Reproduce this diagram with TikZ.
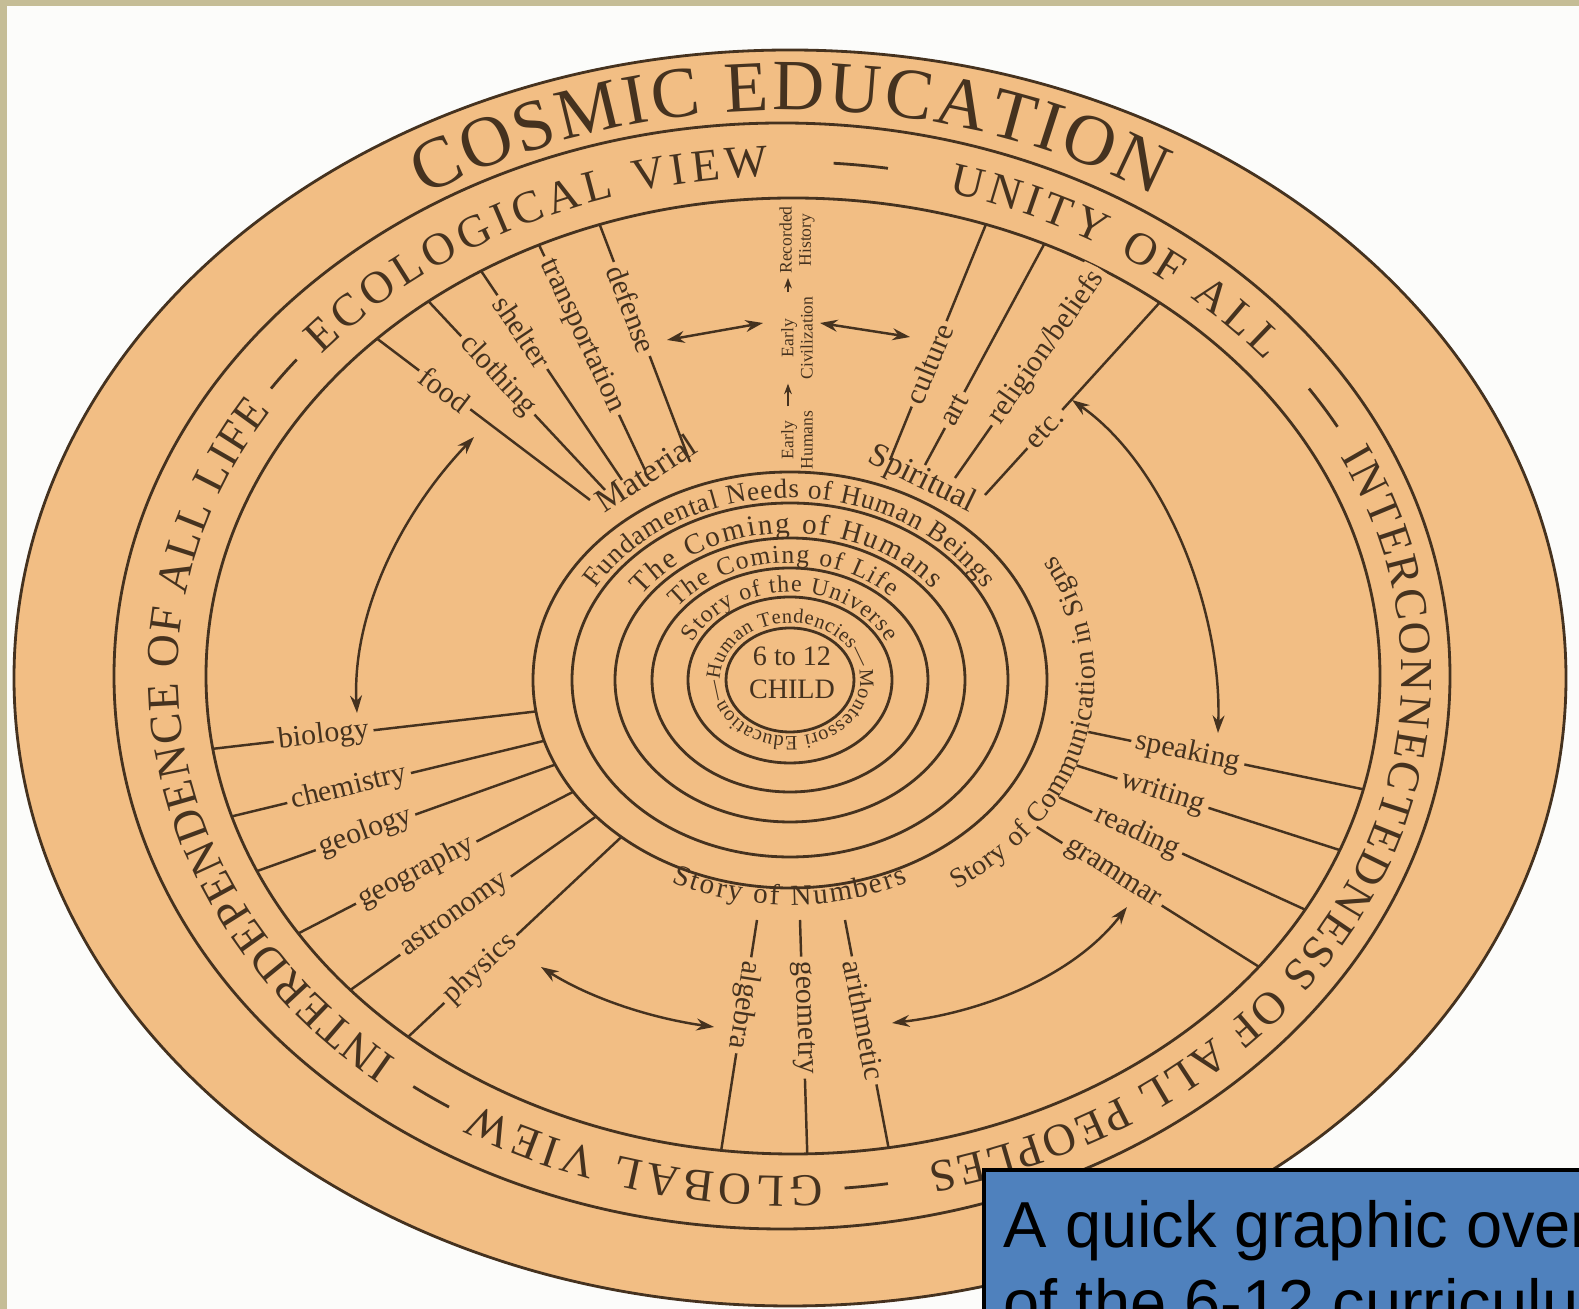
\documentclass[tikz,border=0pt]{standalone}
\usepackage{fontspec}
\setmainfont{Liberation Serif}
\newfontfamily\captionsans{Liberation Sans}
\usetikzlibrary{arrows.meta,decorations.text,calc}
\definecolor{chartfill}{HTML}{F2BE84}
\definecolor{inkbrown}{HTML}{45321F}
\definecolor{pagebg}{HTML}{FCFCFA}
\definecolor{framekhaki}{HTML}{C5BD96}
\definecolor{boxblue}{HTML}{4F81BD}

% text along an elliptic arc: centre, x radius, y radius, from, to, size, text
\newcommand{\arctext}[7]{%
  \path[decorate, decoration={text along path, text color=inkbrown,
      text align=fit to path, text={|\fontsize{#6}{#6}\selectfont|#7}}]
    ($(#1)+({#2*cos(#4)},{#3*sin(#4)})$) arc[start angle=#4, end angle=#5, x radius=#2, y radius=#3];}

\begin{document}
\begin{tikzpicture}[
  x=0.1mm, y=0.1mm,
  ink/.style={draw=inkbrown, line width=0.8pt},
  spoke/.style={draw=inkbrown, line width=0.7pt},
  lbl/.style={fill=chartfill, inner sep=1.3pt, sloped, text=inkbrown, font=\fontsize{8.5}{9}\selectfont},
  twoway/.style={draw=inkbrown, line width=0.7pt, {Stealth[length=5pt,width=3.4pt]}-{Stealth[length=5pt,width=3.4pt]}},
  upward/.style={draw=inkbrown, line width=0.6pt, -{Stealth[length=3pt,width=2.2pt]}},
  stage/.style={rotate=90, align=center, inner sep=1pt, text=inkbrown, font=\fontsize{5}{5.5}\selectfont},
]
  \useasboundingbox (0,0) rectangle (1579,1309);
  \clip (0,0) rectangle (1579,1309);
  \fill[pagebg] (0,0) rectangle (1579,1309);
  \fill[framekhaki] (0,1303) rectangle (1579,1309);
  \fill[framekhaki] (0,0) rectangle (7,1309);

  \coordinate (band) at (790,633);
  \coordinate (ring) at (790,629);

  % bands
  \filldraw[ink, fill=chartfill] (790,631) ellipse [x radius=776, y radius=628];
  \draw[ink] (782,633) ellipse [x radius=668, y radius=553];
  \draw[ink] (793,633) ellipse [x radius=587, y radius=478];

  \arctext{band}{690}{566}{122}{58}{20.5}{COSMIC EDUCATION}
  \arctext{band}{612}{500}{230}{148}{13}{INTERDEPENDENCE OF ALL LIFE}
  \arctext{band}{612}{500}{140}{92}{13}{ECOLOGICAL VIEW}
  \arctext{band}{612}{500}{75}{39}{13}{UNITY OF ALL}
  \arctext{band}{612}{500}{26}{-77}{13}{INTERCONNECTEDNESS OF ALL PEOPLES}
  \arctext{band}{612}{500}{-87}{-121}{13}{GLOBAL VIEW}
  \foreach \a/\b in {146/142, 86/81, 34/29, -81/-85, -123/-127}
    \draw[ink] ($(band)+({626*cos(\a)},{514*sin(\a)})$) arc[start angle=\a, end angle=\b, x radius=626, y radius=514];

  % rings round the child
  \foreach \rx/\ry in {64/52, 102/83, 138/112, 175/142, 218/177, 257/208}
    \draw[ink] (ring) ellipse [x radius=\rx, y radius=\ry];

  \arctext{ring}{224}{182}{150}{30}{7.8}{Fundamental Needs of Human Beings}
  \arctext{ring}{181}{147}{145}{38}{8.3}{The Coming of Humans}
  \arctext{ring}{143}{117}{142}{45}{7.3}{The Coming of Life}
  \arctext{ring}{107}{88}{155}{25}{6.8}{Story of the Universe}
  \arctext{ring}{70}{57}{200}{-160}{5.8}{—Human Tendencies—Montessori Education}
  \arctext{ring}{305}{250}{-57}{30}{8}{Story of Communication in Signs}
  \arctext{ring}{270}{225}{-116}{-64}{8.3}{Story of Numbers}

  \node[align=center, text=inkbrown, font=\fontsize{8}{9.5}\selectfont] (child) at (792,636) {6 to 12\\CHILD};
  \node[rotate=33, text=inkbrown, font=\fontsize{9.5}{10}\selectfont] (material) at (646,836) {Material};
  \node[rotate=-26, text=inkbrown, font=\fontsize{9.5}{10}\selectfont] (spiritual) at (922,829) {Spiritual};

  \begin{scope}
    \clip (793,633) ellipse [x radius=587, y radius=478];
    \foreach \n/\ix/\iy/\ox/\oy/\p in {food/590/809/363/981/.64, clothing/605/819/417/1020/.57,
        shelter/622/829/471/1053/.66, transportation/645/839/532/1079/.56, defense/690/847/593/1102/.60}
    {
      \coordinate (\n-in) at (\ix,\iy);
      \coordinate (\n-out) at (\ox,\oy);
      \draw[spoke] (\n-in) -- node[lbl, pos=\p] {\n} (\n-out);
    }
    \foreach \n/\ix/\iy/\ox/\oy/\p/\lab in {culture/890/849/993/1102/.38/culture, art/925/844/1054/1083/.23/art,
        religion/955/831/1113/1056/.58/religion\slash beliefs, etc/985/814/1172/1020/.32/etc.}
    {
      \coordinate (\n-in) at (\ix,\iy);
      \coordinate (\n-out) at (\ox,\oy);
      \draw[spoke] (\n-in) -- node[lbl, pos=\p] {\lab} (\n-out);
    }
    \foreach \t/\p/\lab [count=\i] in {188.7/.60/biology, 197/.57/chemistry, 204/.58/geology,
        212.5/.52/geography, 221/.52/astronomy, 229/.60/physics}
    {
      \coordinate (sci\i-in) at ($(ring)+({257*cos(\t)},{208*sin(\t)})$);
      \coordinate (sci\i-out) at ($(band)+({615*cos(\t)},{505*sin(\t)})$);
      \draw[spoke] (sci\i-in) -- node[lbl, pos=\p] {\lab} (sci\i-out);
    }
    \foreach \t/\ox/\oy/\p/\lab [count=\i] in {-12/1381/516/.34/speaking, -20/1355/454/.31/writing,
        -28/1319/393/.30/reading, -36/1272/334/.32/grammar}
    {
      \coordinate (lang\i-in) at ($(ring)+({305*cos(\t)},{250*sin(\t)})$);
      \coordinate (lang\i-out) at (\ox,\oy);
      \draw[spoke] (lang\i-in) -- node[lbl, pos=\p] {\lab} (lang\i-out);
    }
    \foreach \ix/\ox/\oy/\p/\lab [count=\i] in {757/718/138/.34/algebra, 800/808/132/.38/geometry,
        845/893/138/.40/arithmetic}
    {
      \coordinate (num\i-in) at (\ix,389);
      \coordinate (num\i-out) at (\ox,\oy);
      \draw[spoke] (num\i-in) -- node[lbl, allow upside down, pos=\p] {\lab} (num\i-out);
    }
  \end{scope}

  % history column
  \node[stage] (recorded) at (797,1069) {Recorded\\History};
  \node[stage] (civil) at (797,971) {Early\\Civilization};
  \node[stage] (humans) at (797,869) {Early\\Humans};
  \draw[upward] ([xshift=-0.9mm]humans.east) -- ([xshift=-0.9mm]civil.west);
  \draw[upward] ([xshift=-0.9mm]civil.east) -- ([xshift=-0.9mm]recorded.west);
  \coordinate (histL1) at (667,969);
  \coordinate (histL2) at (763,986);
  \coordinate (histR1) at (820,986);
  \coordinate (histR2) at (910,972);
  \draw[twoway] (histL1) -- (histL2);
  \draw[twoway] (histR1) -- (histR2);

  % links between the groups
  \coordinate (lifeA) at (474,872);
  \coordinate (lifeB) at (357,596);
  \draw[twoway] (lifeA) .. controls (395,789) and (352,689) .. (lifeB);
  \coordinate (langA) at (1072,909);
  \coordinate (langB) at (1218,576);
  \draw[twoway] (langA) .. controls (1165,844) and (1222,699) .. (langB);
  \coordinate (numL1) at (541,342);
  \coordinate (numL2) at (714,282);
  \draw[twoway] (numL1) .. controls (590,311) and (650,291) .. (numL2);
  \coordinate (numR1) at (1127,402);
  \coordinate (numR2) at (892,286);
  \draw[twoway] (numR1) .. controls (1075,334) and (985,297) .. (numR2);

  % caption box
  \filldraw[draw=black, line width=1.3pt, fill=boxblue] (984,-30) rectangle (1620,139);
  \node[anchor=north west, inner sep=0pt, align=left, font=\captionsans\fontsize{18.5}{22.2}\selectfont] (caption)
    at (1003,109) {A quick graphic overview\\of the 6-12 curriculum};
\end{tikzpicture}
\end{document}
